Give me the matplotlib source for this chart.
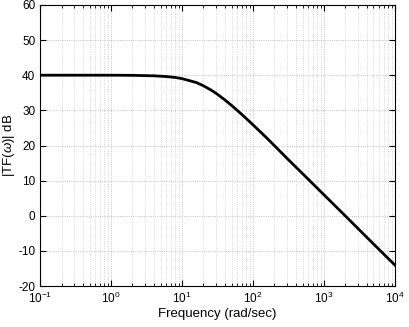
import numpy as np
import matplotlib.pyplot as plt
from matplotlib.ticker import LogLocator, FixedLocator

plt.rcParams["font.family"] = ["Liberation Sans", "DejaVu Sans"]
plt.rcParams["mathtext.fontset"] = "custom"
plt.rcParams["mathtext.it"] = "Liberation Sans:italic"
plt.rcParams["axes.unicode_minus"] = False

# values
freq = [0.1, 0.3, 1, 2, 4, 6, 8, 10, 13, 16, 20, 25, 30, 40, 50, 70,
        100, 150, 200, 300, 500, 1000, 2000, 5000, 10000]
mag_db = [40.0, 40.0, 40.0, 39.96, 39.83, 39.63, 39.36, 39.03, 38.4, 37.9,
          37.0, 35.9, 34.9, 33.0, 31.4, 28.8, 25.9, 22.5, 20.0, 16.4,
          12.0, 6.0, 0.0, -8.0, -14.0]

fig = plt.figure(figsize=(4.1, 3.27), dpi=100)
ax = fig.add_axes([0.098, 0.125, 0.865, 0.86])
ax.semilogx(freq, mag_db, color="black", lw=2)
ax.set_xlim(0.1, 1e4)
ax.set_ylim(-20, 60)
ax.yaxis.set_major_locator(FixedLocator(np.arange(-20, 61, 10)))
ax.xaxis.set_major_locator(LogLocator(base=10, numticks=10))
ax.xaxis.set_minor_locator(LogLocator(base=10, subs=np.arange(2, 10), numticks=10))
ax.grid(True, which="major", ls=":", color="#b0b0b0", lw=0.6)
ax.grid(True, which="minor", axis="x", ls=":", color="#c8c8c8", lw=0.6)
ax.tick_params(which="both", direction="in", top=True, right=True, labelsize=8.5)
ax.tick_params(which="major", length=4)
ax.tick_params(which="minor", length=2)
ax.set_xlabel("Frequency (rad/sec)", fontsize=9.5)
ax.set_ylabel(r"|TF($\omega$)| dB", fontsize=9.5)
ax.xaxis.set_label_coords(0.5, -0.078)
ax.yaxis.set_label_coords(-0.064, 0.5)
for s in ax.spines.values():
    s.set_linewidth(0.8)
fig.savefig("out.png", dpi=100)
